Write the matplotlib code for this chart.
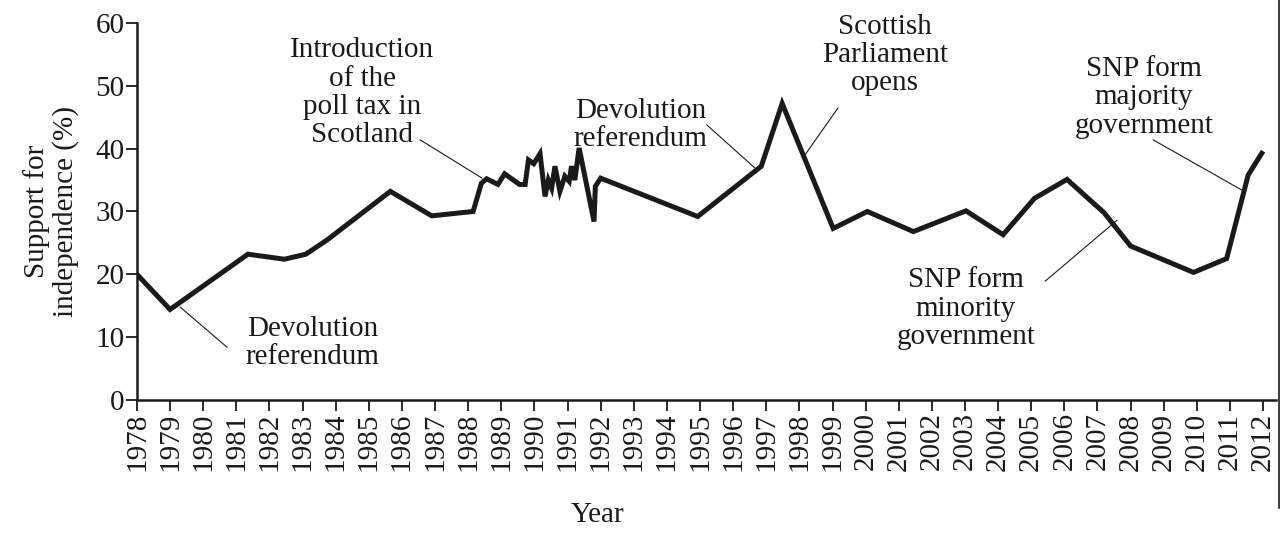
import matplotlib
matplotlib.use("Agg")
import matplotlib.pyplot as plt
from matplotlib.lines import Line2D

plt.rcParams['font.family'] = ['Liberation Serif', 'DejaVu Serif']

# support for independence
years = [1978.0, 1979.0, 1981.35, 1982.45, 1983.1, 1983.75, 1985.65, 1986.9, 1988.15,
         1988.4, 1988.56, 1988.9, 1989.1, 1989.55, 1989.72, 1989.82, 1989.98, 1990.17,
         1990.32, 1990.42, 1990.52, 1990.62, 1990.77, 1990.92, 1991.05, 1991.12, 1991.22,
         1991.35, 1991.8, 1991.84, 1992.0, 1994.93, 1996.85, 1997.48, 1999.02, 2000.05,
         2001.44, 2003.03, 2004.15, 2005.1, 2006.08, 2007.2, 2008.0, 2009.9, 2010.9,
         2011.55, 2012.0]
support = [20.0, 14.4, 23.2, 22.4, 23.2, 25.5, 33.2, 29.3, 30.0,
           34.5, 35.2, 34.3, 36.0, 34.3, 34.3, 38.2, 37.6, 39.2,
           32.4, 35.0, 33.7, 37.2, 33.2, 35.6, 34.8, 37.2, 35.0,
           40.1, 28.4, 34.0, 35.3, 29.2, 37.2, 47.2, 27.3, 30.0,
           26.8, 30.1, 26.3, 32.1, 35.1, 29.8, 24.5, 20.3, 22.5,
           35.8, 39.6]

tick_years = list(range(1978, 2013))
y_ticks = [0, 10, 20, 30, 40, 50, 60]

# (label, text position, leader start, leader end)
events = [
    ("Devolution\nreferendum", (1983.3, 9.1), (1980.72, 8.4), (1979.3, 14.8)),
    ("Introduction\nof the\npoll tax in\nScotland", (1984.8, 48.9), (1986.55, 41.4), (1988.42, 35.3)),
    ("Devolution\nreferendum", (1993.2, 43.8), (1995.2, 43.8), (1996.66, 36.9)),
    ("Scottish\nParliament\nopens", (2000.58, 54.9), (1999.17, 46.5), (1998.17, 39.0)),
    ("SNP form\nmajority\ngovernment", (2008.4, 48.2), (2008.68, 41.4), (2011.36, 33.4)),
    ("SNP form\nminority\ngovernment", (2003.03, 14.5), (2005.42, 18.9), (2007.59, 28.6)),
]

fs = 21

fig = plt.figure(figsize=(12.81, 5.34), dpi=100)
ax = fig.add_axes([0.1069, 0.251, 0.8892, 0.706])

ax.plot(years, support, color='#1a1a1a', lw=3.6, solid_joinstyle='miter', solid_capstyle='butt')

for label, txt, p0, p1 in events:
    ax.annotate('', xy=p1, xytext=p0,
                arrowprops=dict(arrowstyle='-', lw=0.8, color='#1a1a1a',
                                shrinkA=0, shrinkB=0))
    ax.text(txt[0], txt[1], label, ha='center', va='center', fontsize=fs,
            linespacing=1.12, color='#1a1a1a')

ax.set_xlim(1978, 2012.39)
ax.set_ylim(0, 60)
ax.set_xticks(tick_years)
ax.set_xticklabels([str(y) for y in tick_years], rotation=90, fontsize=fs)
ax.set_yticks(y_ticks)
ax.set_yticklabels([str(v) for v in y_ticks], fontsize=fs)
ax.tick_params(axis='both', direction='out', length=8, width=1.3, color='#1a1a1a',
               labelcolor='#1a1a1a', pad=1)

for side in ['top', 'right']:
    ax.spines[side].set_visible(False)
for side in ['left', 'bottom']:
    ax.spines[side].set_linewidth(1.8)
    ax.spines[side].set_color('#1a1a1a')

ax.set_xlabel("Year", fontsize=fs, color='#1a1a1a')
ax.xaxis.set_label_coords(0.404, -0.27)
ax.set_ylabel("Support for\nindependence (%)", fontsize=fs, color='#1a1a1a',
              linespacing=1.1, labelpad=12)

# thin frame edge on the right of the original figure
fig.add_artist(Line2D([0.9985, 0.9985], [0.048, 1.0], transform=fig.transFigure,
                      color='#1a1a1a', lw=1.2))

fig.savefig("out.png", dpi=100)
